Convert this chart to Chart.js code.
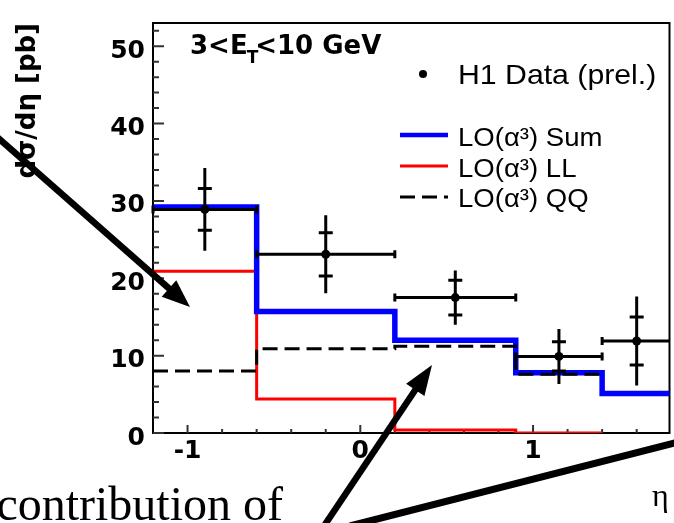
<!DOCTYPE html>
<html>
<head>
<meta charset="UTF-8">
<title>dσ/dη 3&lt;E_T&lt;10 GeV</title>
<script src="https://cdn.jsdelivr.net/npm/chart.js"></script>
<style>
  body { margin: 0; background: #fff; }
  canvas { display: block; }
</style>
</head>
<body>
<canvas id="xsecChart" width="674" height="523"></canvas>
<script>
// eta bin edges and LO(alpha^3) predictions [pb]
const binEdges = [-1.2, -0.6, 0.2, 0.9, 1.4, 1.8];
const sumXsec = [29.2, 15.7, 12.0, 7.8, 5.1];
const llXsec = [20.9, 4.4, 0.4, 0.0];
const qqXsec = [8.0, 10.9, 11.2, 7.6];

// H1 preliminary points, one per bin
const dataEta = [-0.9, -0.2, 0.55, 1.15, 1.6];
const dataXsec = [28.9, 23.1, 17.5, 9.9, 11.9];
const statErr = [2.7, 2.8, 2.25, 1.9, 3.1];
const totErr = [5.35, 5.05, 3.5, 3.55, 5.75];

// axis ticks
const yTickLabels = [0, 10, 20, 30, 40, 50];
const yMinorTicks = [2, 4, 6, 8, 12, 14, 16, 18, 22, 24, 26, 28, 32, 34, 36, 38, 42, 44, 46, 48, 52];
const xTickLabels = [-1, 0, 1];
const xMinorTicks = [-0.8, -0.6, -0.4, -0.2, 0.2, 0.4, 0.6, 0.8, 1.2, 1.4, 1.6];

// histogram as step points, last edge repeats the last value
function stepPoints(vals) {
  const pts = vals.map((v, i) => ({ x: binEdges[i], y: v }));
  pts.push({ x: binEdges[vals.length], y: vals[vals.length - 1] });
  return pts;
}

function drawArrow(ctx, x0, y0, x1, y1, w, headLen, headW) {
  const a = Math.atan2(y1 - y0, x1 - x0);
  const bx = x1 - headLen * Math.cos(a), by = y1 - headLen * Math.sin(a);
  ctx.lineWidth = w;
  ctx.lineCap = 'butt';
  ctx.beginPath();
  ctx.moveTo(x0, y0);
  ctx.lineTo(bx + 2 * Math.cos(a), by + 2 * Math.sin(a));
  ctx.stroke();
  ctx.beginPath();
  ctx.moveTo(x1, y1);
  ctx.lineTo(bx + headW * Math.sin(a), by - headW * Math.cos(a));
  ctx.lineTo(bx - headW * Math.sin(a), by + headW * Math.cos(a));
  ctx.closePath();
  ctx.fill();
}

// frame and inward ticks, ROOT style
const framePlugin = {
  id: 'frame',
  beforeDatasetsDraw(chart) {
    const { ctx, chartArea: a, scales: { x, y } } = chart;
    ctx.save();
    ctx.strokeStyle = '#000';
    ctx.lineWidth = 2;
    ctx.strokeRect(a.left, a.top, a.right - a.left, a.bottom - a.top);
    ctx.strokeStyle = '#333';
    ctx.beginPath();
    yTickLabels.forEach(v => { const p = y.getPixelForValue(v); ctx.moveTo(a.left, p); ctx.lineTo(a.left + 11, p); });
    yMinorTicks.forEach(v => { const p = y.getPixelForValue(v); ctx.moveTo(a.left, p); ctx.lineTo(a.left + 6, p); });
    xTickLabels.forEach(v => { const p = x.getPixelForValue(v); ctx.moveTo(p, a.bottom); ctx.lineTo(p, a.bottom - 8); });
    xMinorTicks.forEach(v => { const p = x.getPixelForValue(v); ctx.moveTo(p, a.bottom); ctx.lineTo(p, a.bottom - 4); });
    ctx.stroke();
    ctx.restore();
  }
};

// stat (inner crossbar) and total errors, bin width as horizontal bar
const errorBarPlugin = {
  id: 'errorBars',
  afterDatasetsDraw(chart) {
    const { ctx, chartArea: a, scales: { x, y } } = chart;
    ctx.save();
    ctx.beginPath();
    ctx.rect(a.left - 2, a.top, a.right - a.left + 2, a.bottom - a.top);
    ctx.clip();
    ctx.strokeStyle = '#000';
    ctx.lineWidth = 3;
    ctx.beginPath();
    dataEta.forEach((eta, i) => {
      const px = x.getPixelForValue(eta);
      const py = y.getPixelForValue(dataXsec[i]);
      const xl = x.getPixelForValue(binEdges[i]);
      const xr = x.getPixelForValue(binEdges[i + 1]);
      ctx.moveTo(xl, py); ctx.lineTo(xr, py);
      ctx.moveTo(xl, py - 4); ctx.lineTo(xl, py + 4);
      ctx.moveTo(xr, py - 4); ctx.lineTo(xr, py + 4);
      ctx.moveTo(px, y.getPixelForValue(dataXsec[i] + totErr[i]));
      ctx.lineTo(px, y.getPixelForValue(dataXsec[i] - totErr[i]));
      [statErr[i], -statErr[i]].forEach(e => {
        const sy = y.getPixelForValue(dataXsec[i] + e);
        ctx.moveTo(px - 7, sy); ctx.lineTo(px + 7, sy);
      });
    });
    ctx.stroke();
    ctx.restore();
  }
};

// bin label, legend and the slide annotations on top
const overlayPlugin = {
  id: 'overlay',
  afterDraw(chart) {
    const ctx = chart.ctx;
    const ds = chart.data.datasets;
    ctx.save();
    ctx.fillStyle = '#000';
    ctx.textBaseline = 'alphabetic';

    // 3<E_T<10 GeV
    ctx.font = 'bold 26px "DejaVu Sans"';
    let tx = 190;
    ctx.fillText('3<E', tx, 54);
    tx += ctx.measureText('3<E').width;
    ctx.font = 'bold 17px "DejaVu Sans"';
    ctx.fillText('T', tx - 1, 63);
    tx += ctx.measureText('T').width - 4;
    ctx.font = 'bold 26px "DejaVu Sans"';
    ctx.fillText('<10 GeV', tx, 54);

    // legend
    function label(text, x0, y0, size) {
      ctx.save();
      ctx.translate(x0, y0);
      ctx.scale(1.08, 1);
      ctx.font = size + 'px "Liberation Sans"';
      ctx.fillText(text, 0, 0);
      ctx.restore();
    }
    ctx.beginPath();
    ctx.arc(423, 74, 4, 0, Math.PI * 2);
    ctx.fill();
    label(ds[0].label, 458, 84, 28);
    const rows = [[ds[2], 135, 146], [ds[3], 166, 177], [ds[1], 197, 207]];
    rows.forEach(([d, ly, by]) => {
      ctx.save();
      ctx.strokeStyle = d.borderColor;
      ctx.lineWidth = d === ds[2] ? 4.5 : 3;
      ctx.setLineDash(d.borderDash || []);
      ctx.beginPath();
      ctx.moveTo(400, ly); ctx.lineTo(448, ly);
      ctx.stroke();
      ctx.restore();
      label(d.label, 458, by, 25.5);
    });

    // annotations
    ctx.font = '48px "Liberation Serif"';
    ctx.textAlign = 'right';
    ctx.fillText('contribution of', 283, 520);
    ctx.textAlign = 'left';
    ctx.font = '32px "Liberation Serif"';
    ctx.fillText('η', 652, 506);

    ctx.strokeStyle = '#000';
    drawArrow(ctx, -20, 122, 190, 307, 6.5, 28, 11);
    drawArrow(ctx, 320, 532, 432, 365, 6.5, 30, 11);
    ctx.lineWidth = 7;
    ctx.beginPath();
    ctx.moveTo(350, 526);
    ctx.lineTo(690, 439);
    ctx.stroke();
    ctx.restore();
  }
};

new Chart(document.getElementById('xsecChart'), {
  type: 'line',
  data: {
    datasets: [
      {
        type: 'scatter',
        label: 'H1 Data (prel.)',
        data: dataEta.map((eta, i) => ({ x: eta, y: dataXsec[i] })),
        pointRadius: 4.5,
        pointBackgroundColor: '#000',
        pointBorderWidth: 0,
        showLine: false
      },
      {
        label: 'LO(α³) QQ',
        data: stepPoints(qqXsec),
        stepped: 'before',
        borderColor: '#000',
        borderWidth: 3,
        borderDash: [15, 7],
        pointRadius: 0,
        fill: false
      },
      {
        label: 'LO(α³) Sum',
        data: stepPoints(sumXsec),
        stepped: 'before',
        borderColor: '#0000ff',
        borderWidth: 5.5,
        pointRadius: 0,
        fill: false
      },
      {
        label: 'LO(α³) LL',
        data: stepPoints(llXsec),
        stepped: 'before',
        borderColor: '#ff0000',
        borderWidth: 3,
        pointRadius: 0,
        fill: false
      }
    ]
  },
  options: {
    responsive: false,
    animation: false,
    layout: { padding: { top: 9, right: 1, left: 0, bottom: 0 } },
    plugins: { legend: { display: false }, tooltip: { enabled: false } },
    scales: {
      x: {
        type: 'linear',
        min: -1.2,
        max: 1.79,
        grid: { display: false, drawTicks: false },
        border: { display: false },
        afterBuildTicks: s => { s.ticks = xTickLabels.map(v => ({ value: v })); },
        afterFit: s => { s.height = 90; },
        ticks: {
          padding: 3,
          color: '#000',
          font: { family: '"DejaVu Sans"', weight: 'bold', size: 25 }
        }
      },
      y: {
        min: 0,
        max: 53,
        grid: { display: false, drawTicks: false },
        border: { display: false },
        afterBuildTicks: s => { s.ticks = yTickLabels.map(v => ({ value: v })); },
        afterFit: s => { s.width = 153; },
        ticks: {
          padding: 8,
          labelOffset: 5,
          color: '#000',
          font: { family: '"DejaVu Sans"', weight: 'bold', size: 25 }
        },
        title: {
          display: true,
          text: 'dσ/dη [pb]',
          align: 'end',
          color: '#000',
          padding: { top: 13, bottom: 0 },
          font: { family: '"DejaVu Sans"', weight: 'bold', size: 26 }
        }
      }
    }
  },
  plugins: [framePlugin, errorBarPlugin, overlayPlugin]
});
</script>
</body>
</html>
